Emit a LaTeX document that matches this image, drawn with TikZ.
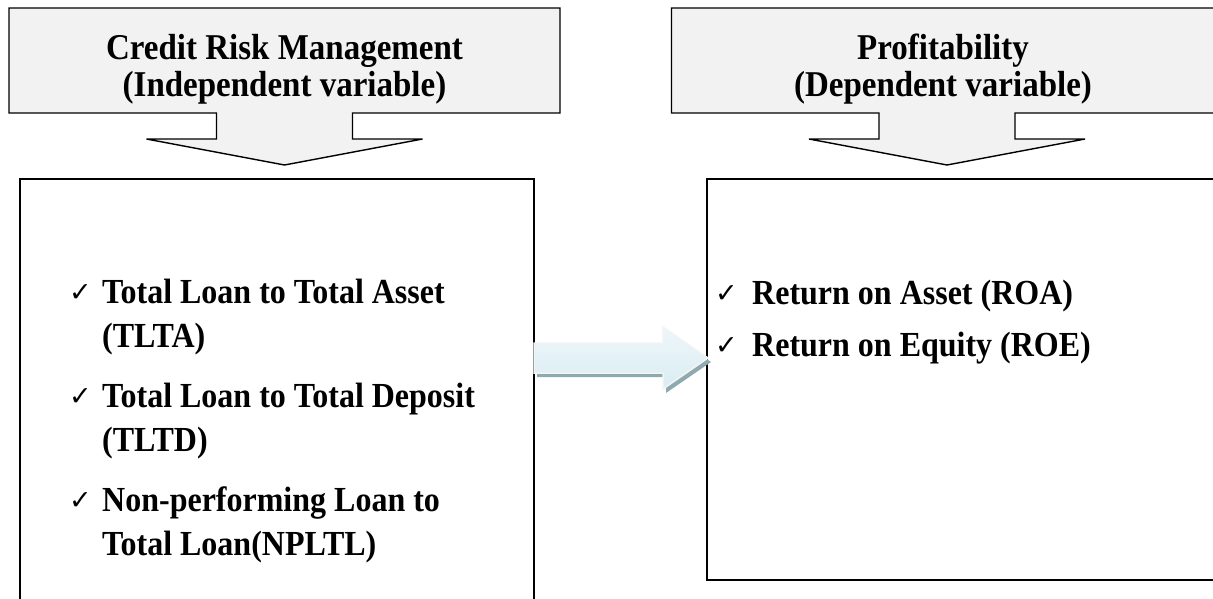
\documentclass[tikz,border=0pt]{standalone}
\usepackage{fontspec}
\setmainfont{Liberation Serif}
\newfontfamily\symfont{DejaVu Sans}
\definecolor{calloutgray}{HTML}{F2F2F2}
\definecolor{arrowfillA}{HTML}{EEF6F9}
\definecolor{arrowfillB}{HTML}{D9EDF3}
\definecolor{arrowedge}{HTML}{F3F3F3}
\definecolor{arrowshadow}{HTML}{8FA9B1}
\newcommand\stretchtext[1]{\scalebox{1}[1.1]{#1}}
\begin{document}
\begin{tikzpicture}[x=1pt,y=-1pt,line join=miter]
\tikzset{
  frame/.style={draw=black,line width=1.6pt},
  calloutline/.style={draw=black,line width=1.4pt,fill=calloutgray},
  headtext/.style={font=\fontsize{33}{38}\selectfont\bfseries,anchor=base,inner sep=0},
  itemtext/.style={font=\fontsize{32}{40}\selectfont\bfseries,anchor=base west,inner sep=0},
  tick/.style={font=\symfont\fontsize{27}{27}\selectfont,anchor=base east,inner sep=0},
  downcallout/.pic={
    \draw[calloutline] (-275.5,0) -- (275.5,0) -- (275.5,105) -- (68,105) -- (68,131)
      -- (138,131) -- (0,157) -- (-138,131) -- (-68,131) -- (-68,105) -- (-275.5,105) -- cycle;
  }
}
\useasboundingbox (0,0) rectangle (1213,598);
\clip (0,0) rectangle (1213,598);

% header callouts
\pic at (284.5,8) {downcallout};
\pic at (947,8) {downcallout};
\node[headtext] (indepA) at (284.5,59) {\stretchtext{Credit Risk Management}};
\node[headtext] (indepB) at (284.5,96) {\stretchtext{(Independent variable)}};
\node[headtext] (depA) at (943,59) {\stretchtext{Profitability}};
\node[headtext] (depB) at (943,96) {\stretchtext{(Dependent variable)}};

% variable boxes
\coordinate (lbox-nw) at (20,179);
\coordinate (lbox-se) at (534,640);
\coordinate (rbox-nw) at (707,179);
\coordinate (rbox-se) at (1230,580);
\draw[frame] (lbox-nw) rectangle (lbox-se);
\draw[frame] (rbox-nw) rectangle (rbox-se);

% independent variables
\node[tick] (t1) at (92,301) {✓};
\node[itemtext] (i1a) at (102,303) {\stretchtext{Total Loan to Total Asset}};
\node[itemtext] (i1b) at (102,347) {\stretchtext{(TLTA)}};
\node[tick] (t2) at (92,405) {✓};
\node[itemtext] (i2a) at (102,407) {\stretchtext{Total Loan to Total Deposit}};
\node[itemtext] (i2b) at (102,451) {\stretchtext{(TLTD)}};
\node[tick] (t3) at (92,509) {✓};
\node[itemtext] (i3a) at (102,511) {\stretchtext{Non-performing Loan to}};
\node[itemtext] (i3b) at (102,555) {\stretchtext{Total Loan(NPLTL)}};

% dependent variables
\node[tick] (t4) at (738,302) {✓};
\node[itemtext] (d1) at (752,304) {\stretchtext{Return on Asset (ROA)}};
\node[tick] (t5) at (738,354) {✓};
\node[itemtext] (d2) at (752,356) {\stretchtext{Return on Equity (ROE)}};

% block arrow between the boxes
\coordinate (from) at (534,358);
\coordinate (to) at (708,358);
\fill[arrowshadow] ([shift={(3,4)}]from) ++(0,-15) -- ++(129,0) -- ++(0,-16)
  -- ([shift={(3,4)}]to) -- ++(-45,31) -- ++(0,-16) -- ++(-129,0) -- cycle;
\draw[arrowedge,line width=1.5pt,top color=arrowfillA,bottom color=arrowfillB]
  (from) ++(0,-15) -- ++(129,0) -- ++(0,-16) -- (to) -- ++(-45,31) -- ++(0,-16)
  -- ++(-129,0) -- cycle;
\end{tikzpicture}
\end{document}
